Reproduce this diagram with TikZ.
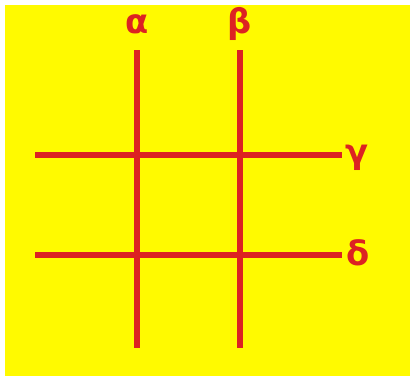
\documentclass[tikz,border=0pt]{standalone}
\usepackage{fontspec}
\newfontfamily\greekfont{DejaVu Sans}
\usetikzlibrary{positioning}
\definecolor{bgyellow}{RGB}{255,250,0}
\definecolor{gridred}{RGB}{220,34,34}
\begin{document}
\begin{tikzpicture}[
			x=0.25mm,
			y=-0.25mm,
			gridline/.style={
				draw=gridred,
				line width=1.3mm
			},
			letter/.style={
				text=gridred,
				inner sep=0pt,
				font=\greekfont\bfseries\fontsize{24}{30}\selectfont
			}
			]
			
			%%%%%%%%%%%%%%%%%%%%%%%%%%%%%%%%%%%%%%%%%%%%%%%%%%%%%%
			% Background
			%%%%%%%%%%%%%%%%%%%%%%%%%%%%%%%%%%%%%%%%%%%%%%%%%%%%%%
			
			\useasboundingbox (0,0) rectangle (410,376);
			\fill[bgyellow] (5,5) rectangle (410,376);
			
			%%%%%%%%%%%%%%%%%%%%%%%%%%%%%%%%%%%%%%%%%%%%%%%%%%%%%%
			% End points
			%%%%%%%%%%%%%%%%%%%%%%%%%%%%%%%%%%%%%%%%%%%%%%%%%%%%%%
			
			\coordinate (atop) at (137,50);
			\coordinate (abot) at (137,348);
			\coordinate (btop) at (240,50);
			\coordinate (bbot) at (240,348);
			\coordinate (gleft) at (35,155);
			\coordinate (gright) at (342,155);
			\coordinate (dleft) at (35,255);
			\coordinate (dright) at (342,255);
			
			%%%%%%%%%%%%%%%%%%%%%%%%%%%%%%%%%%%%%%%%%%%%%%%%%%%%%%
			% Labels
			%%%%%%%%%%%%%%%%%%%%%%%%%%%%%%%%%%%%%%%%%%%%%%%%%%%%%%
			
			\node[letter] (alpha) at (137,24) {α};
			\node[letter] (beta) at (240,24) {β};
			\node[letter] (gamma) at (357,158) {γ};
			\node[letter] (delta) at (358,253) {δ};
			
			%%%%%%%%%%%%%%%%%%%%%%%%%%%%%%%%%%%%%%%%%%%%%%%%%%%%%%
			% Grid lines
			%%%%%%%%%%%%%%%%%%%%%%%%%%%%%%%%%%%%%%%%%%%%%%%%%%%%%%
			
			\draw[gridline]
			(atop) -- (abot);
			
			\draw[gridline]
			(btop) -- (bbot);
			
			\draw[gridline]
			(gleft) -- (gright);
			
			\draw[gridline]
			(dleft) -- (dright);
			
			%%%%%%%%%%%%%%%%%%%%%%%%%%%%%%%%%%%%%%%%%%%%%%%%%%%%%%
			
		\end{tikzpicture}
\end{document}
